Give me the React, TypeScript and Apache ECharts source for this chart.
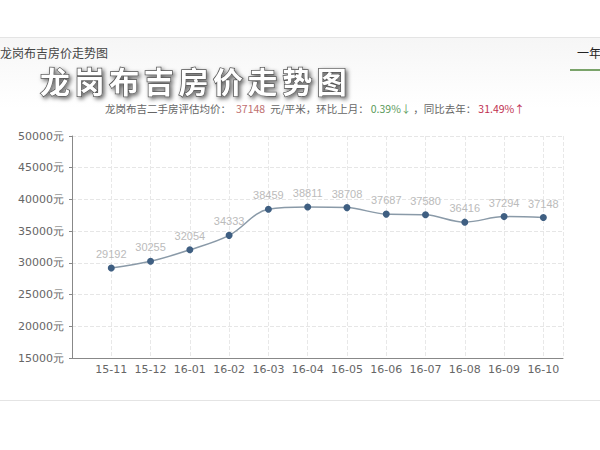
import React, { useEffect, useRef } from "react";
import * as echarts from "echarts";

const categories = ["15-11", "15-12", "16-01", "16-02", "16-03", "16-04", "16-05", "16-06", "16-07", "16-08", "16-09", "16-10"];
const prices = [29192, 30255, 32054, 34333, 38459, 38811, 38708, 37687, 37580, 36416, 37294, 37148];
const yTicks = [15000, 20000, 25000, 30000, 35000, 40000, 45000, 50000];

const pageTitle = "龙岗布吉房价走势图";
const overlayTitle = "龙岗布吉房价走势图";
const tabLabel = "一年";
const subtitleParts = [
  { text: "龙岗布吉二手房评估均价：", color: "#666666" },
  { text: "37148", color: "#c07070" },
  { text: "元/平米，环比上月：", color: "#666666" },
  { text: "0.39%↓", color: "#5a9a5a" },
  { text: "，同比去年：", color: "#666666" },
  { text: "31.49%↑", color: "#c03050" },
];

export default function App() {
  const ref = useRef<HTMLDivElement>(null);
  useEffect(() => {
    if (!ref.current) return;
    const chart = echarts.init(ref.current, null, { renderer: "svg" });
    const seriesData = prices.map((v, i) => [i, v]);

    const subSize = 10.5;
    const subFamily = "Noto Sans CJK SC";
    const gaps = [4, 4, 1, 1, 1, 0];
    let sx = 105;
    const subtitleTexts = subtitleParts.map((p, i) => {
      const w = (echarts.format as any).getTextRect
        ? (echarts.format as any).getTextRect(p.text, `${subSize}px '${subFamily}'`).width
        : p.text.length * subSize;
      const el = {
        type: "text",
        x: sx,
        y: 108,
        style: { text: p.text, fill: p.color, fontSize: subSize, lineHeight: 12, fontFamily: subFamily, verticalAlign: "middle" },
      };
      sx += w + gaps[i] + 1;
      return el;
    });

    const titleChars = overlayTitle.split("").map((ch, i) => ({
      type: "text",
      x: 40 + i * 34.6,
      y: 80,
      style: {
        text: ch,
        fill: "#ffffff",
        fontSize: 30,
        lineHeight: 30,
        fontWeight: "bold",
        fontFamily: "Noto Sans CJK SC",
        verticalAlign: "middle",
        stroke: "#555",
        lineWidth: 1.5,
        textShadowColor: "rgba(0,0,0,0.6)",
        textShadowBlur: 4,
        textShadowOffsetX: 2,
        textShadowOffsetY: 2,
      },
    }));

    chart.setOption({
      animation: false,
      backgroundColor: "#ffffff",
      grid: { left: 72, right: 37, top: 136, bottom: 92, containLabel: false },
      xAxis: {
        type: "value",
        min: -1,
        max: 11.5,
        interval: 1,
        axisLine: { show: true, onZero: false, lineStyle: { color: "#888", width: 1 } },
        axisTick: { show: false },
        axisLabel: {
          color: "#666",
          fontSize: 11,
          margin: 6,
          fontFamily: "DejaVu Sans",
          formatter: (v: number) => (v >= 0 && v < categories.length && Number.isInteger(v) ? categories[v] : ""),
        },
        splitLine: { show: true, lineStyle: { color: "#e8e8e8", type: "dashed" } },
      },
      yAxis: {
        type: "value",
        min: yTicks[0],
        max: yTicks[yTicks.length - 1],
        interval: 5000,
        axisLine: { show: true, onZero: false, lineStyle: { color: "#888" } },
        axisTick: { show: true, length: 3, lineStyle: { color: "#888" } },
        axisLabel: { color: "#666", fontSize: 11, margin: 8, fontFamily: "DejaVu Sans", formatter: (v: number) => `${v}元` },
        splitLine: { show: true, lineStyle: { color: "#e6e6e6", type: "dashed" } },
      },
      series: [
        {
          type: "line",
          data: seriesData,
          smooth: 0.35,
          symbol: "circle",
          symbolSize: 7,
          lineStyle: { color: "#8a9aa8", width: 1.5 },
          itemStyle: { color: "#3f5f82" },
          label: { show: true, position: "top", color: "#bbbbbb", fontSize: 11, distance: 5, formatter: (p: any) => String(p.value[1]) },
        },
      ],
      graphic: [
        {
          type: "rect",
          shape: { x: 0, y: 38, width: 600, height: 70 },
          style: { fill: new echarts.graphic.LinearGradient(0, 0, 0, 1, [{ offset: 0, color: "#f6f6f6" }, { offset: 1, color: "#ffffff" }]) },
          silent: true,
          z: -10,
        },
        { type: "rect", shape: { x: 0, y: 37, width: 600, height: 1 }, style: { fill: "#e4e4e4" }, silent: true },
        { type: "rect", shape: { x: 0, y: 400, width: 600, height: 1 }, style: { fill: "#e4e4e4" }, silent: true },
        { type: "rect", shape: { x: 570, y: 69, width: 30, height: 2 }, style: { fill: "#7aa36a" }, silent: true },
        { type: "text", x: 0, y: 52, style: { text: pageTitle, fill: "#444", fontSize: 12, fontFamily: "Noto Sans CJK SC", verticalAlign: "middle" } },
        { type: "text", x: 577, y: 52, style: { text: tabLabel, fill: "#222", fontSize: 12, fontFamily: "Noto Sans CJK SC", verticalAlign: "middle" } },
        ...titleChars,
        ...subtitleTexts,
      ],
    });
    return () => chart.dispose();
  }, []);
  return <div ref={ref} style={{ position: "fixed", left: 0, top: 0, width: 600, height: 450 }} />;
}
